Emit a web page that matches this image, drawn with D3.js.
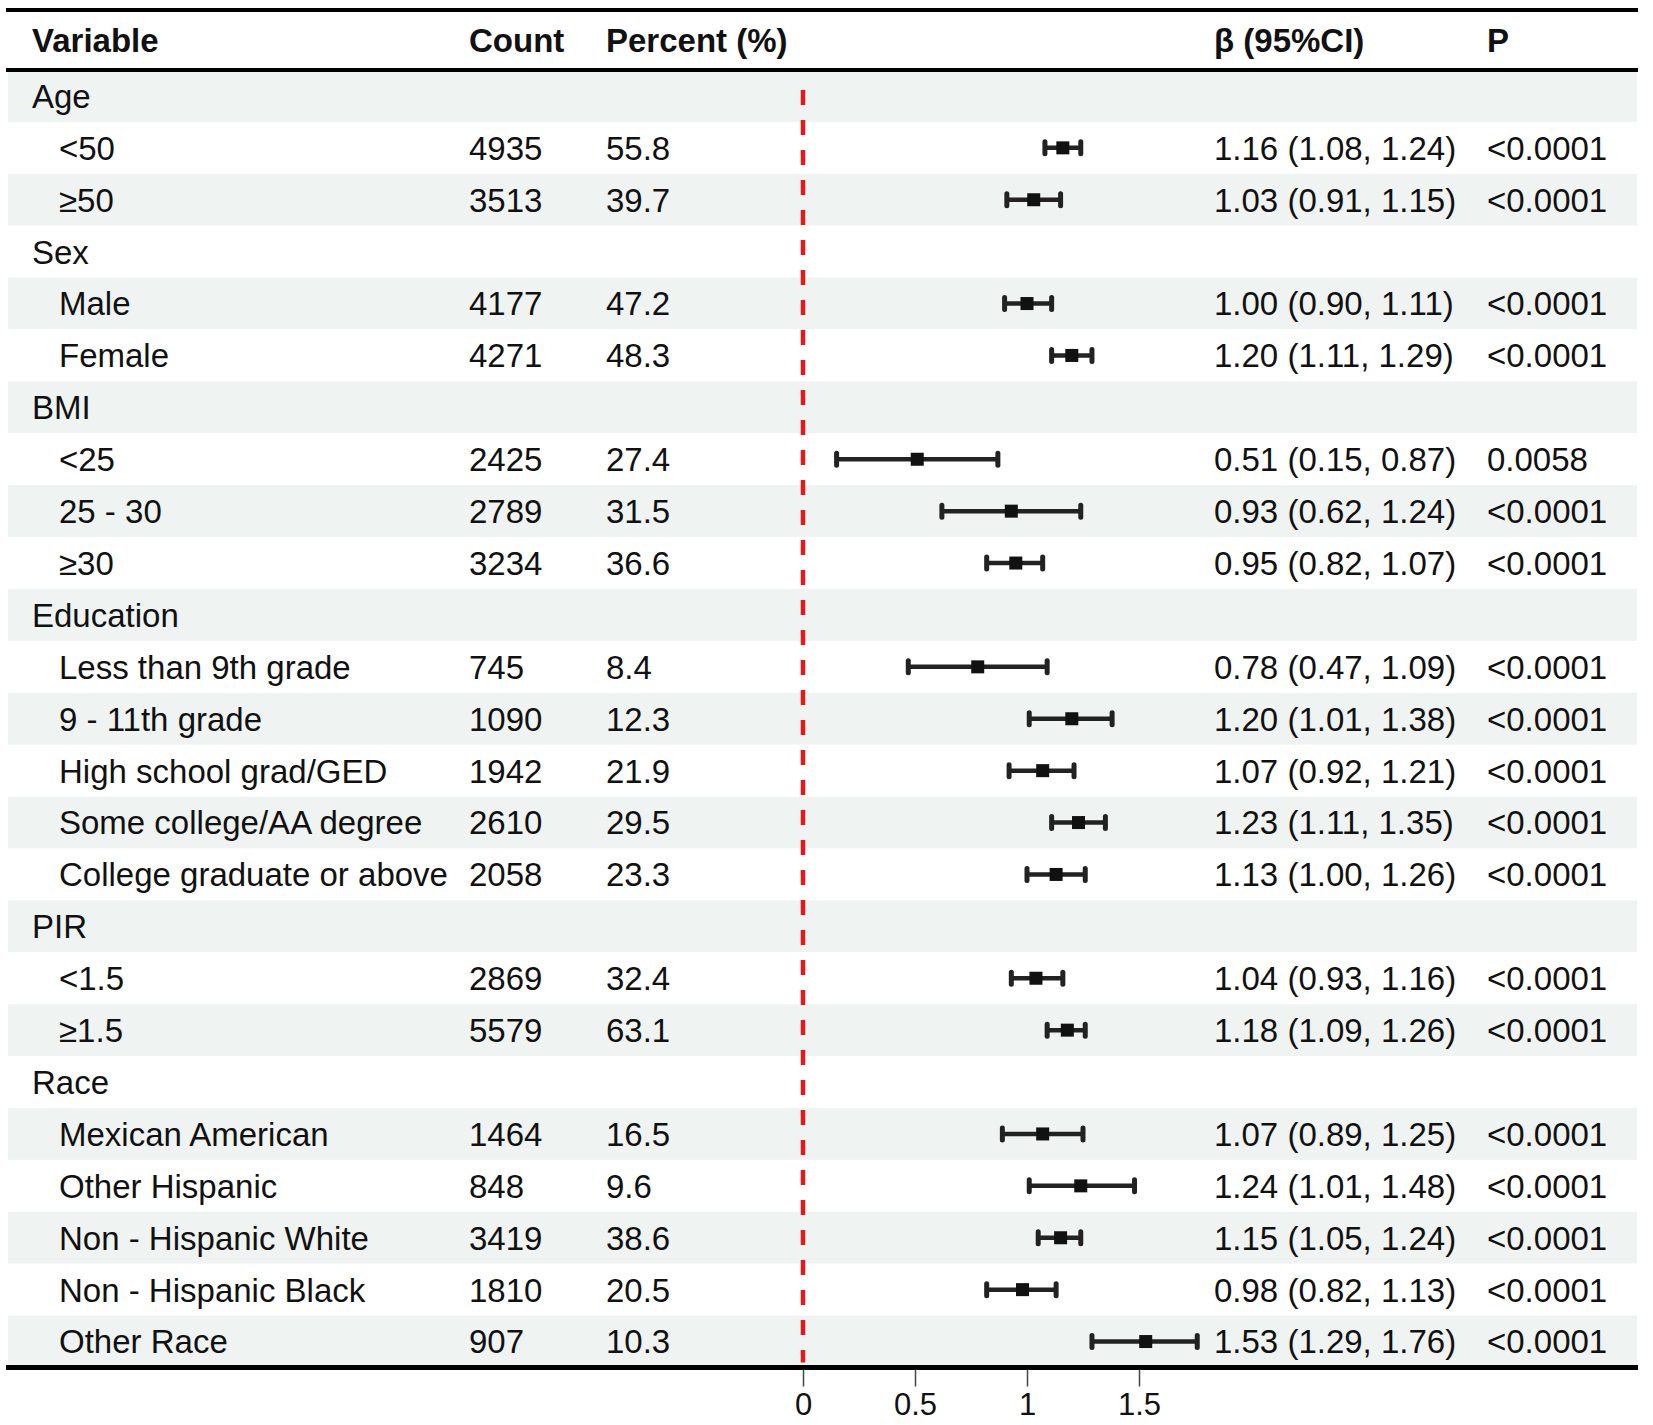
<!DOCTYPE html>
<meta charset="utf-8">
<title>Forest plot</title>
<style>
  body { margin: 0; background: #fff; }
  text { font-family: "Liberation Sans", Arial, Helvetica, sans-serif; fill: #111; }
</style>
<body>
<div id="chart"></div>
<script src="https://d3js.org/d3.v7.min.js"></script>
<script>

// rows of the table (group headers have no numbers)
const labels = ["Age", "<50", "≥50", "Sex", "Male", "Female", "BMI", "<25", "25 - 30", "≥30",
  "Education", "Less than 9th grade", "9 - 11th grade", "High school grad/GED", "Some college/AA degree",
  "College graduate or above", "PIR", "<1.5", "≥1.5", "Race", "Mexican American", "Other Hispanic",
  "Non - Hispanic White", "Non - Hispanic Black", "Other Race"];
const isGroup = [1,0,0,1,0,0,1,0,0,0,1,0,0,0,0,0,1,0,0,1,0,0,0,0,0];
const counts = [null,4935,3513,null,4177,4271,null,2425,2789,3234,null,745,1090,1942,2610,2058,null,2869,5579,null,1464,848,3419,1810,907];
const percents = [null,"55.8","39.7",null,"47.2","48.3",null,"27.4","31.5","36.6",null,"8.4","12.3","21.9","29.5","23.3",null,"32.4","63.1",null,"16.5","9.6","38.6","20.5","10.3"];
const beta = [null,1.16,1.03,null,1.00,1.20,null,0.51,0.93,0.95,null,0.78,1.20,1.07,1.23,1.13,null,1.04,1.18,null,1.07,1.24,1.15,0.98,1.53];
const lower = [null,1.08,0.91,null,0.90,1.11,null,0.15,0.62,0.82,null,0.47,1.01,0.92,1.11,1.00,null,0.93,1.09,null,0.89,1.01,1.05,0.82,1.29];
const upper = [null,1.24,1.15,null,1.11,1.29,null,0.87,1.24,1.07,null,1.09,1.38,1.21,1.35,1.26,null,1.16,1.26,null,1.25,1.48,1.24,1.13,1.76];
const pvals = [null,"<0.0001","<0.0001",null,"<0.0001","<0.0001",null,"0.0058","<0.0001","<0.0001",null,"<0.0001","<0.0001","<0.0001","<0.0001","<0.0001",null,"<0.0001","<0.0001",null,"<0.0001","<0.0001","<0.0001","<0.0001","<0.0001"];
const xTicks = [0, 0.5, 1, 1.5];

const W = 1653, H = 1425;
const left = 6, right = 1638;
const topLine = 10, headLine = 70, rowH = 51.9;
const fs = 33;

const svg = d3.select("#chart").append("svg")
  .attr("width", W).attr("height", H);

const rowIdx = d3.range(labels.length);
const y = d3.scaleBand().domain(rowIdx).range([headLine, headLine + rowH * labels.length]);
const bottom = headLine + rowH * labels.length;

// forest x scale: 0 at 803, 1 at 1027
const x = d3.scaleLinear().domain([0, 1]).range([803, 1027]);

// row backgrounds
svg.append("g").selectAll("rect").data(rowIdx).join("rect")
  .attr("x", left + 2).attr("width", right - left - 3)
  .attr("y", d => y(d)).attr("height", y.bandwidth())
  .attr("fill", d => d % 2 === 0 ? "#eff3f2" : "#ffffff");

// header
const cols = {label: 32, count: 469, pct: 606, ci: 1214, p: 1487};
const header = svg.append("g").attr("font-weight", "bold").attr("font-size", fs);
[["Variable", cols.label], ["Count", cols.count], ["Percent (%)", cols.pct], ["β (95%CI)", cols.ci], ["P", cols.p]]
  .forEach(([t, xx]) => header.append("text").attr("x", xx).attr("y", (topLine + headLine) / 2).attr("dy", "0.36em").text(t));

// text columns
const body = svg.append("g").attr("font-size", fs);
const rows = body.selectAll("g").data(rowIdx).join("g")
  .attr("transform", d => `translate(0,${y(d) + y.bandwidth() / 2})`);
rows.append("text").attr("x", d => isGroup[d] ? cols.label : cols.label + 27).attr("dy", "0.36em").text(d => labels[d]);
rows.filter(d => !isGroup[d]).append("text").attr("x", cols.count).attr("dy", "0.36em").text(d => counts[d]);
rows.filter(d => !isGroup[d]).append("text").attr("x", cols.pct).attr("dy", "0.36em").text(d => percents[d]);
rows.filter(d => !isGroup[d]).append("text").attr("x", cols.ci).attr("dy", "0.36em")
  .text(d => `${beta[d].toFixed(2)} (${lower[d].toFixed(2)}, ${upper[d].toFixed(2)})`);
rows.filter(d => !isGroup[d]).append("text").attr("x", cols.p).attr("dy", "0.36em").text(d => pvals[d]);

// reference line at 0
svg.append("line")
  .attr("x1", x(0)).attr("x2", x(0))
  .attr("y1", headLine + 20).attr("y2", bottom - 5)
  .attr("stroke", "#e31a1c").attr("stroke-width", 4.5)
  .attr("stroke-dasharray", "15,15");

// CI bars
const est = rows.filter(d => !isGroup[d]).append("g").attr("stroke", "#222");
est.append("line").attr("x1", d => x(lower[d])).attr("x2", d => x(upper[d])).attr("stroke-width", 4.5);
est.append("line").attr("x1", d => x(lower[d])).attr("x2", d => x(lower[d]))
  .attr("y1", -6).attr("y2", 6).attr("stroke-width", 5).attr("stroke-linecap", "round");
est.append("line").attr("x1", d => x(upper[d])).attr("x2", d => x(upper[d]))
  .attr("y1", -6).attr("y2", 6).attr("stroke-width", 5).attr("stroke-linecap", "round");
est.append("rect").attr("x", d => x(beta[d]) - 6.5).attr("y", -6.5)
  .attr("width", 13).attr("height", 13).attr("fill", "#111").attr("stroke", "none");

// horizontal rules
[[topLine, 4], [headLine, 4], [bottom, 5]].forEach(([yy, w]) =>
  svg.append("line").attr("x1", left).attr("x2", right).attr("y1", yy).attr("y2", yy)
    .attr("stroke", "#000").attr("stroke-width", w));

// x axis
const axis = svg.append("g")
  .attr("transform", `translate(0,${bottom + 2})`)
  .call(d3.axisBottom(x).tickValues(xTicks).tickFormat(d3.format("")).tickSize(17).tickPadding(6));
axis.select(".domain").remove();
axis.selectAll(".tick line").attr("stroke", "#444").attr("stroke-width", 1.5);
axis.selectAll(".tick text").attr("font-size", 31).attr("fill", "#111")
  .attr("font-family", "Liberation Sans, Arial, sans-serif");

</script>
</body>
